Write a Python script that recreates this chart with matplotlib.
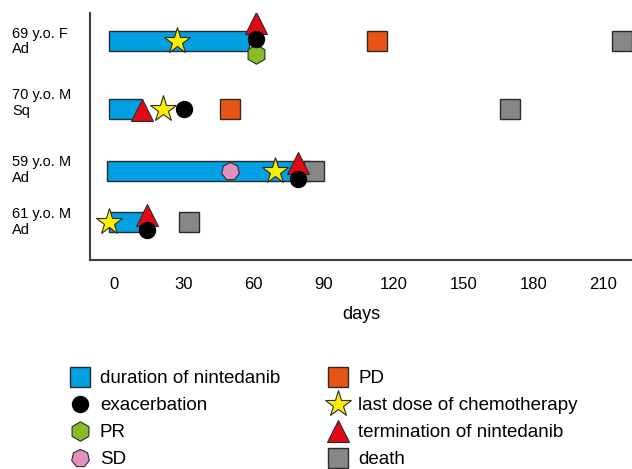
import matplotlib
matplotlib.use("Agg")
from matplotlib import pyplot as plt
from matplotlib.lines import Line2D
from matplotlib.transforms import blended_transform_factory

plt.rcParams['font.family'] = ['Liberation Sans', 'DejaVu Sans']

# patients, top to bottom
patients = ["69 y.o. F\nAd", "70 y.o. M\nSq", "59 y.o. M\nAd", "61 y.o. M\nAd"]

# events in days (None = not present)
ninte_start = [-2, -2, -3, -2]
ninte_end = [58, 12, 84, 14]
exacerbation = [61, 30, 79, 14]
pr = [61, None, None, None]
sd = [None, None, 50, None]
pd_day = [113, 50, None, None]
last_chemo = [27, 21, 69, -2]
termination = [61, 12, 79, 14]
death = [218, 170, 86, 32]

# layout (vertical positions in axis units, offsets for stacked markers)
row_y = [218.5, 151, 89, 38]
label_off = [0, 6, 1, 0]
term_off = [18, -1, 8, 7]
exac_off = [2, 0, -8, -8]
pr_off = -12.5

c_blue = '#00A0E3'
c_orange = '#E95516'
c_red = '#E30613'
c_yellow = '#FFED00'
c_green = '#86BC25'
c_pink = '#E38FBF'
c_grey = '#878787'
edge = '#2b2b2b'

fig = plt.figure(figsize=(6.32, 4.69), dpi=100)
ax = fig.add_axes([90/632, 1-260/469, 542/632, 247/469])

for i in range(len(patients)):
    y = row_y[i]
    ax.barh(y, ninte_end[i] - ninte_start[i], left=ninte_start[i], height=20,
            color=c_blue, edgecolor=edge, linewidth=1, zorder=2)
    if death[i] is not None:
        ax.plot(death[i], y, 's', ms=15, mfc=c_grey, mec=edge, mew=1, zorder=3)
    if pd_day[i] is not None:
        ax.plot(pd_day[i], y, 's', ms=15, mfc=c_orange, mec=edge, mew=1, zorder=3)
    if sd[i] is not None:
        ax.plot(sd[i], y, marker=(7, 0, 0), ms=13, mfc=c_pink, mec=edge, mew=0.8, zorder=4)
    if pr[i] is not None:
        ax.plot(pr[i], y + pr_off, 'h', ms=14, mfc=c_green, mec=edge, mew=0.8, zorder=4)
    ax.plot(last_chemo[i], y, '*', ms=19.5, mfc=c_yellow, mec=edge, mew=0.8, zorder=5)
    ax.plot(termination[i], y + term_off[i], '^', ms=16, mfc=c_red, mec=edge, mew=0.8, zorder=5)
    ax.plot(exacerbation[i], y + exac_off[i], 'o', ms=11.5, mfc='black', mec='black', zorder=6)

# patient labels at the far left of the figure
trans = blended_transform_factory(fig.transFigure, ax.transData)
for i, name in enumerate(patients):
    ax.text(12/632, row_y[i] + label_off[i], name, transform=trans, ha='left', va='center',
            fontsize=10.5, linespacing=1.1)

ax.set_xlim(-10.3, 222.4)
ax.set_ylim(0, 247)
ax.set_xticks([0, 30, 60, 90, 120, 150, 180, 210])
ax.set_yticks([])
ax.tick_params(axis='x', length=0, pad=12, labelsize=12)
ax.set_xlabel('days', fontsize=13, labelpad=10)
for s in ['top', 'right']:
    ax.spines[s].set_visible(False)
for s in ['left', 'bottom']:
    ax.spines[s].set_color('#404040')
    ax.spines[s].set_linewidth(1.5)

handles = [
    Line2D([], [], ls='none', marker='s', ms=15, mfc=c_blue, mec=edge),
    Line2D([], [], ls='none', marker='o', ms=11.5, mfc='black', mec='black'),
    Line2D([], [], ls='none', marker='h', ms=14, mfc=c_green, mec=edge, mew=0.8),
    Line2D([], [], ls='none', marker=(7, 0, 0), ms=13, mfc=c_pink, mec=edge, mew=0.8),
    Line2D([], [], ls='none', marker='s', ms=15, mfc=c_orange, mec=edge),
    Line2D([], [], ls='none', marker='*', ms=20, mfc=c_yellow, mec=edge, mew=0.8),
    Line2D([], [], ls='none', marker='^', ms=16, mfc=c_red, mec=edge, mew=0.8),
    Line2D([], [], ls='none', marker='s', ms=15, mfc=c_grey, mec=edge),
]
labels = ['duration of nintedanib', 'exacerbation', 'PR', 'SD',
          'PD', 'last dose of chemotherapy', 'termination of nintedanib', 'death']
fig.legend(handles, labels, ncol=2, loc='upper left', bbox_to_anchor=(69/632, 1-370/469),
           frameon=False, fontsize=13.5, handlelength=1.2, handletextpad=0.45,
           columnspacing=2.5, labelspacing=0.53, borderpad=0, borderaxespad=0)

fig.savefig('out.png', dpi=100)
